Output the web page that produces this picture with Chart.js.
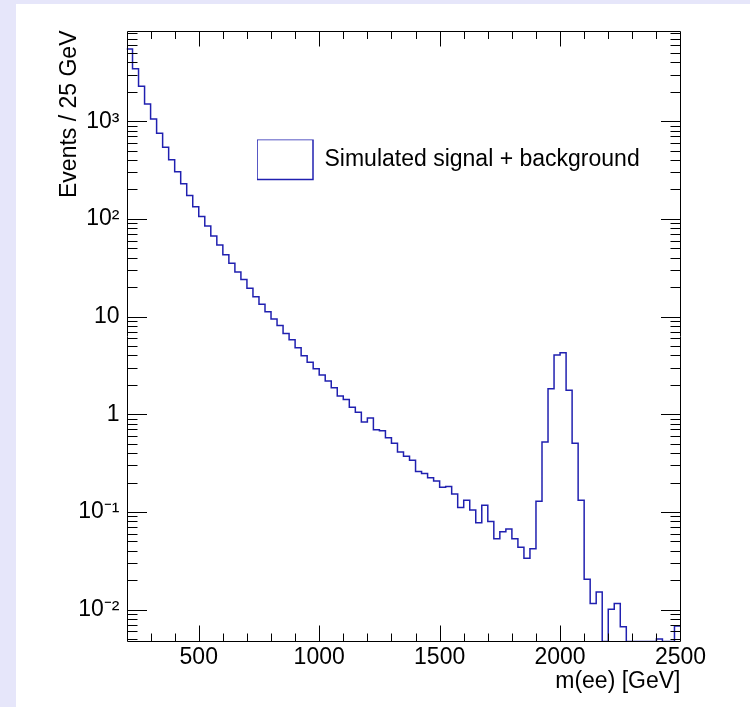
<!DOCTYPE html>
<html>
<head>
<meta charset="utf-8">
<script src="https://cdn.jsdelivr.net/npm/chart.js@4"></script>
<style>
html,body{margin:0;padding:0;background:#e6e6fa;width:750px;height:707px;overflow:hidden;}
#panel{position:absolute;left:16px;top:4px;right:0;bottom:0;background:#ffffff;}
#c{position:absolute;left:0;top:0;}
</style>
</head>
<body>
<div id="panel"></div>
<canvas id="c" width="750" height="707"></canvas>
<script>
// ---- data ----
const binEdges = [200,225,250,275,300,325,350,375,400,425,450,475,500,525,550,575,600,625,650,675,
  700,725,750,775,800,825,850,875,900,925,950,975,1000,1025,1050,1075,1100,1125,1150,1175,
  1200,1225,1250,1275,1300,1325,1350,1375,1400,1425,1450,1475,1500,1525,1550,1575,1600,1625,1650,1675,
  1700,1725,1750,1775,1800,1825,1850,1875,1900,1925,1950,1975,2000,2025,2050,2075,2100,2125,2150,2175,
  2200,2225,2250,2275,2300,2325,2350,2375,2400,2425,2450,2475,2500];

const eventsPer25GeV = [
  5480,3445,2275,1500,1052,752,541,404,304,229,
  174,133,106,84.6,66.8,54,43,35.1,28.6,23.9,
  19.5,16.0,13.4,11.2,9.45,8.1,6.7,5.8,4.81,3.98,
  3.40,2.93,2.52,2.19,1.87,1.54,1.42,1.18,1.05,0.834,
  0.917,0.696,0.680,0.576,0.505,0.411,0.372,0.338,0.259,0.247,
  0.224,0.208,0.179,0.182,0.153,0.111,0.132,0.105,0.0777,0.117,
  0.080,0.0533,0.0629,0.0670,0.0533,0.0435,0.0336,0.0421,0.129,0.520,
  1.83,4.05,4.27,1.76,0.505,0.132,0.0205,0.0116,0.0152,0,
  0.0101,0.0116,0.0067,0,0,0,0,0,0.0050,0,
  0,0.0068
];

const seriesLabel = 'Simulated signal + background';
const xTickValues = [500,1000,1500,2000,2500];
const xTickLabels = ['500','1000','1500','2000','2500'];
const yTickValues = [0.01,0.1,1,10,100,1000];
const yTickLabels = ['10⁻²','10⁻¹','1','10','10²','10³'];
const xTitle = 'm(ee) [GeV]';
const yTitle = 'Events / 25 GeV';

const X_MIN = 200, X_MAX = 2500;
const Y_MIN = 0.004725, Y_MAX = 8476;
const LINE_COLOR = 'rgb(32,32,176)';
const FONT = '"Liberation Sans", Arial, Helvetica, sans-serif';

// histogram outline: one point per bin low edge, plus the final upper edge
const points = eventsPer25GeV.map((v, i) => ({x: binEdges[i], y: Math.max(v, Y_MIN)}));
points.push({x: binEdges[binEdges.length - 1], y: Math.max(eventsPer25GeV[eventsPer25GeV.length - 1], Y_MIN)});

// frame + ROOT-style inward ticks, placed through the chart's scales
const frameTicks = {
  id: 'frameTicks',
  afterDatasetsDraw(chart) {
    const {ctx, chartArea: a, scales: {x, y}} = chart;
    const L = Math.round(a.left) + 0.5, R = Math.round(a.right) - 0.5;
    const T = Math.round(a.top) + 0.5, B = Math.round(a.bottom) - 0.5;
    ctx.save();
    ctx.strokeStyle = '#000';
    ctx.lineWidth = 1;
    ctx.beginPath();
    ctx.rect(L, T, R - L, B - T);
    for (let v = X_MIN + 100; v < X_MAX; v += 100) {
      const px = Math.round(x.getPixelForValue(v)) + 0.5;
      const major = xTickValues.includes(v);
      const lb = major ? 16 : 8, lt = major ? 15 : 7.5;
      ctx.moveTo(px, B); ctx.lineTo(px, B - lb);
      ctx.moveTo(px, T); ctx.lineTo(px, T + lt);
    }
    for (let d = -3; d <= 3; d++) {
      for (let k = 1; k <= 9; k++) {
        const v = k * Math.pow(10, d);
        if (v < Y_MIN || v > Y_MAX) continue;
        const py = Math.round(y.getPixelForValue(v)) + 0.5;
        const len = k === 1 ? 19.5 : 10;
        ctx.moveTo(L, py); ctx.lineTo(L + len, py);
        ctx.moveTo(R, py); ctx.lineTo(R - len, py);
      }
    }
    ctx.stroke();
    ctx.restore();
  }
};

// move the library legend inside the plot, as in the reference
const legendPlace = {
  id: 'legendPlace',
  afterLayout(chart) {
    const lg = chart.legend;
    if (!lg) return;
    const w = lg.width, h = lg.height;
    lg.left = 257; lg.top = 139.5;
    lg.right = lg.left + w; lg.bottom = lg.top + h;
  }
};

new Chart(document.getElementById('c'), {
  type: 'line',
  data: {
    datasets: [{
      label: seriesLabel,
      data: points,
      stepped: 'before',
      borderColor: LINE_COLOR,
      backgroundColor: 'rgba(255,255,255,0)',
      borderWidth: 1.5,
      pointRadius: 0,
      fill: false,
      tension: 0
    }]
  },
  options: {
    responsive: false,
    animation: false,
    devicePixelRatio: 1,
    layout: {padding: {left: 0, right: 69.5, top: 30.5, bottom: 0}},
    plugins: {
      legend: {
        position: 'chartArea',
        align: 'start',
        labels: {
          boxWidth: 56, boxHeight: 40, padding: 0, color: '#000',
          font: {family: FONT, size: 23}
        }
      },
      tooltip: {enabled: false}
    },
    scales: {
      x: {
        type: 'linear', min: X_MIN, max: X_MAX,
        afterBuildTicks: s => { s.ticks = xTickValues.map(v => ({value: v})); },
        afterFit: s => { s.height = 65.5; },
        grid: {display: false, drawTicks: false},
        border: {display: false},
        ticks: {
          padding: 2.5, color: '#000', autoSkip: false, maxRotation: 0,
          font: {family: FONT, size: 23},
          callback: (v, i) => xTickLabels[i]
        },
        title: {
          display: true, text: xTitle, align: 'end', color: '#000',
          font: {family: FONT, size: 23, lineHeight: 1.2},
          padding: {top: 0, bottom: 11.7}
        }
      },
      y: {
        type: 'logarithmic', min: Y_MIN, max: Y_MAX,
        afterBuildTicks: s => { s.ticks = yTickValues.map(v => ({value: v})); },
        afterFit: s => { s.width = 126.5; },
        grid: {display: false, drawTicks: false},
        border: {display: false},
        ticks: {
          padding: 7, color: '#000', autoSkip: false,
          font: {family: FONT, size: 23},
          callback: (v, i) => yTickLabels[i]
        },
        title: {
          display: true, text: yTitle, align: 'end', color: '#000',
          font: {family: FONT, size: 23, lineHeight: 1.2},
          padding: {top: 55.4, bottom: 0}
        }
      }
    }
  },
  plugins: [frameTicks, legendPlace]
});
</script>
</body>
</html>
